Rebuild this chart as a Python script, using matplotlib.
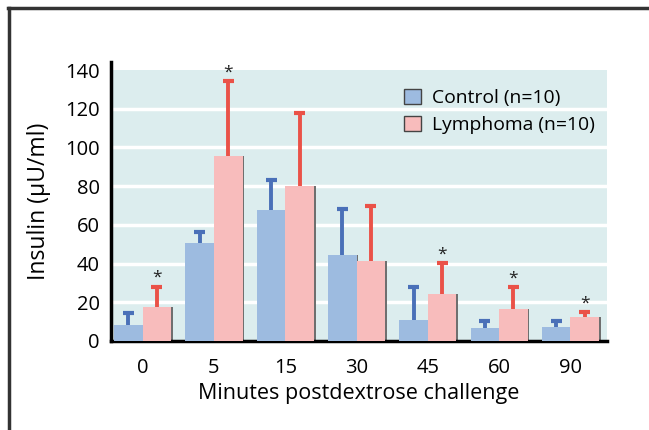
#importing package
import numpy as np
import matplotlib.pyplot as plt
from matplotlib.lines import Line2D

plt.rcParams['font.family'] = ['Open Sans', 'DejaVu Sans']

#declaring data
minutes = ['0', '5', '15', '30', '45', '60', '90']
control = [8.1, 50.8, 67.7, 44.6, 10.9, 6.7, 7.2]
control_err = [6.2, 5.4, 15.5, 23.6, 16.8, 3.8, 3.3]
lymphoma = [17.4, 95.8, 80.1, 41.3, 24.3, 16.7, 12.4]
lymphoma_err = [10.7, 38.6, 37.6, 28.5, 15.9, 11.0, 2.7]
significant = [True, True, False, False, True, True, True]

blue = '#9dbbe0'
pink = '#f8bcbc'
blue_err = '#4a70b8'
red_err = '#ea5248'
bg = '#dcedee'

x = np.arange(len(minutes))
w = 0.4
cap = 0.077

fig = plt.figure(figsize=(6.49, 4.30), dpi=100)
ax = fig.add_axes([0.171, 0.207, 0.764, 0.649])

#background band and white gridlines
ax.axhspan(0, 140, color=bg, zorder=0, lw=0)
for g in range(20, 140, 20):
    ax.axhline(g, color='white', lw=2.5, zorder=1)

#bar shadows then bars
ax.bar(x - w / 2 + 0.025, control, w, color='#6f6f6f', zorder=2)
ax.bar(x + w / 2 + 0.025, lymphoma, w, color='#6f6f6f', zorder=2)
ax.bar(x - w / 2, control, w, color=blue, zorder=3, label='Control (n=10)')
ax.bar(x + w / 2, lymphoma, w, color=pink, zorder=3, label='Lymphoma (n=10)')

#upper error bars only
c_top = np.array(control) + np.array(control_err)
l_top = np.array(lymphoma) + np.array(lymphoma_err)
ax.vlines(x - w / 2, control, c_top, color=blue_err, lw=2.8, zorder=4)
ax.hlines(c_top, x - w / 2 - cap, x - w / 2 + cap, color=blue_err, lw=3, zorder=4)
ax.vlines(x + w / 2, lymphoma, l_top, color=red_err, lw=2.8, zorder=4)
ax.hlines(l_top, x + w / 2 - cap, x + w / 2 + cap, color=red_err, lw=3, zorder=4)

#asterisks
for i in range(len(x)):
    if significant[i]:
        ax.text(x[i] + w / 2, l_top[i] + 0.3, '*',
                ha='center', va='bottom', fontsize=12.5, color='#222222')

ax.set_xlim(-0.445, 6.51)
ax.set_ylim(0, 144.2)
ax.set_yticks(np.arange(0, 141, 20))
ax.set_xticks(x)
ax.set_xticklabels(minutes)
ax.tick_params(length=0, labelsize=14.5)
ax.tick_params(axis='x', pad=12)
ax.tick_params(axis='y', pad=8)
ax.set_facecolor('white')
ax.spines['top'].set_visible(False)
ax.spines['right'].set_visible(False)
ax.spines['left'].set_linewidth(2.5)
ax.spines['bottom'].set_linewidth(2.5)
ax.set_xlabel('Minutes postdextrose challenge', fontsize=15.5, labelpad=4)
ax.set_ylabel('Insulin (μU/ml)', fontsize=16.5, labelpad=10)

leg = ax.legend(loc='upper right', bbox_to_anchor=(1.01, 0.965), frameon=False,
                fontsize=13.9, handlelength=0.85, handleheight=0.85,
                handletextpad=0.55, labelspacing=0.42)
for h in leg.legend_handles:
    h.set_edgecolor('#444444')
    h.set_linewidth(1)

#outer frame lines, top and left
fig.add_artist(Line2D([0.013, 1.0], [0.981, 0.981], color='#333333', lw=2.5))
fig.add_artist(Line2D([0.014, 0.014], [0.0, 0.981], color='#333333', lw=2.5))

fig.savefig('out.png', dpi=100)
